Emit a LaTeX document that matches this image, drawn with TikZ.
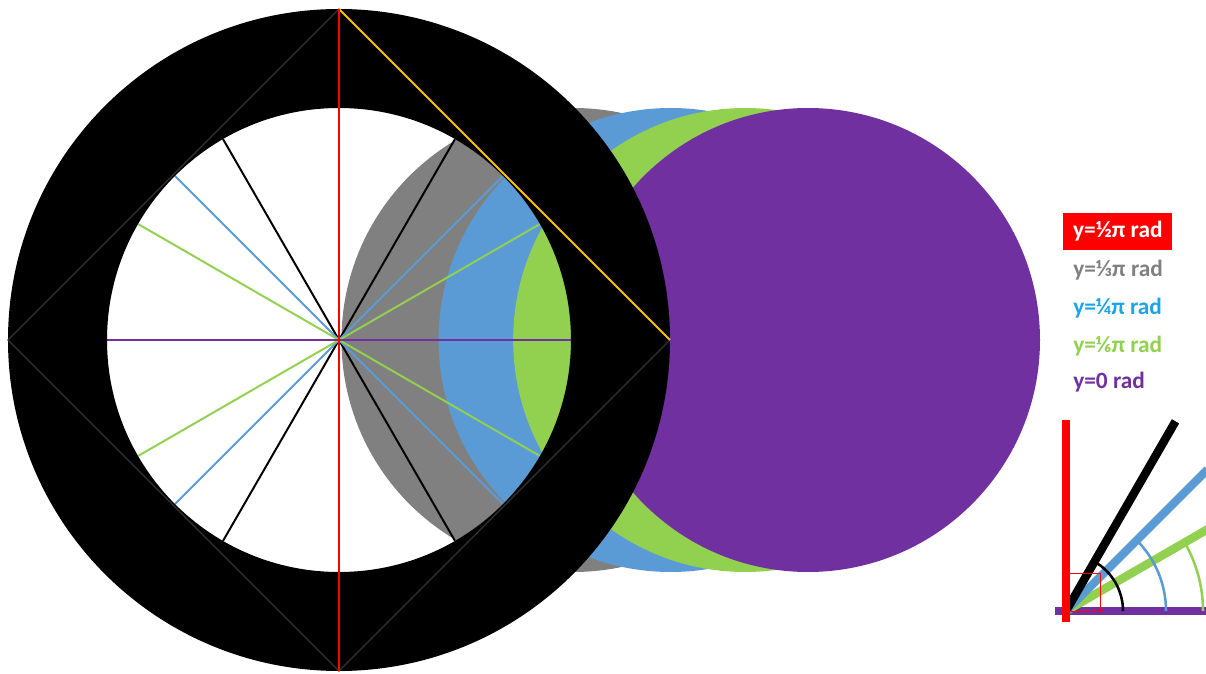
\documentclass[tikz,border=0pt]{standalone}
\usepackage{fontspec}
\setmainfont{Carlito}
\usetikzlibrary{calc}
\definecolor{mygray}{HTML}{808080}
\definecolor{myblue}{HTML}{5B9BD5}
\definecolor{mygreen}{HTML}{92D050}
\definecolor{mypurple}{HTML}{7030A0}
\definecolor{myorange}{HTML}{FFC000}
\definecolor{mycyan}{HTML}{1CA4E6}
\definecolor{myedge}{HTML}{333333}

\begin{document}
\begin{tikzpicture}[
        x=0.025cm, y=0.025cm,
        spoke/.style={line width=1.4pt},
        bar/.style={line width=6pt},
        anglearc/.style={line width=1.8pt},
        legend/.style={anchor=west, inner sep=0pt, font=\bfseries\fontsize{16.6}{18}\selectfont}
    ]
    \clip (0,0) rectangle (1206,673);
    \coordinate (O) at (339,333);
    \coordinate (top) at ($(O)+(90:331)$);
    \coordinate (left) at ($(O)+(180:331)$);
    \coordinate (bottom) at ($(O)+(270:331)$);
    \coordinate (right) at ($(O)+(0:331)$);
    % rotated circles, shifted by cos(y)
    \foreach \ang/\col in {60/mygray, 45/myblue, 30/mygreen, 0/mypurple}
        \fill[\col] ($(O)+({469*cos(\ang)},0)$) circle (232);
    % spokes
    \foreach \ang/\col in {60/black, 120/black, 45/myblue, 135/myblue, 30/mygreen, 150/mygreen, 0/mypurple}
        \draw[spoke, \col] ($(O)+(\ang:232)$) -- ($(O)+(\ang+180:232)$);
    % ring
    \fill[black, even odd rule] (O) circle (331) (O) circle (232);
    \draw[myedge, line width=0.8pt] (top) -- (left) -- (bottom) -- (right);
    \draw[myorange, spoke] (top) -- (right);
    \draw[red, spoke] (top) -- (bottom);

    % legend
    \node [legend, fill=red, text=white, inner xsep=7pt, minimum height=26pt] (leg90) at (1063,441.5) {y=½π rad};
    \node [legend, text=mygray] (leg60) at (1073,403) {y=⅓π rad};
    \node [legend, text=mycyan] (leg45) at (1073,365) {y=¼π rad};
    \node [legend, text=mygreen] (leg30) at (1073,327) {y=⅙π rad};
    \node [legend, text=mypurple] (leg0) at (1073,291) {y=0 rad};

    % small angle sketch
    \coordinate (P) at (1066,62);
    \draw[mypurple, bar] (1055,62) -- (1206,62);
    \draw[mygreen, bar] (P) -- ++(30:170);
    \draw[myblue, bar] (P) -- ++(45:200);
    \draw[black, bar] (P) -- ++(60:219);
    \draw[anglearc, mygreen] ($(P)+(137,0)$) arc[start angle=0, end angle=30, radius=137];
    \draw[anglearc, myblue] ($(P)+(100,0)$) arc[start angle=0, end angle=45, radius=100];
    \draw[anglearc, black] ($(P)+(57,0)$) arc[start angle=0, end angle=60, radius=57];
    \draw[red, bar] (1066,51) -- (1066,253);
    \draw[red, line width=0.7pt] (P) rectangle ++(34,38);
\end{tikzpicture}
\end{document}
